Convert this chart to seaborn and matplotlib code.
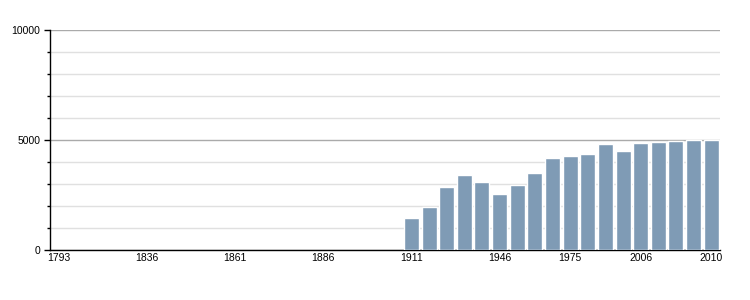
import matplotlib
matplotlib.use("Agg")
import matplotlib.pyplot as plt
import seaborn as sns
import numpy as np
import pandas as pd
from matplotlib.ticker import MultipleLocator

years = ["1793", "1800", "1806", "1821", "1831", "1836", "1841", "1846", "1851", "1856",
         "1861", "1866", "1872", "1876", "1881", "1886", "1891", "1896", "1901", "1906",
         "1911", "1921", "1926", "1931", "1936", "1946", "1954", "1962", "1968", "1975",
         "1982", "1990", "1999", "2006", "2007", "2008", "2009", "2010"]
population = [np.nan] * 20 + [1455, 1955, 2865, 3410, 3090, 2545, 2955, 3500, 4180,
                              4275, 4365, 4820, 4500, 4865, 4910, 4955, 5000, 5010]
tick_labels = ["1793", "1836", "1861", "1886", "1911", "1946", "1975", "2006", "2010"]

df = pd.DataFrame({"year": years, "population": population})

sns.set_style("white")
plt.rcParams["font.family"] = ["Liberation Sans", "DejaVu Sans"]

fig = plt.figure(figsize=(7.5, 3), dpi=100)
ax = fig.add_axes([50 / 750, 50 / 300, 670 / 750, 220 / 300])

sns.barplot(data=df, x="year", y="population", order=years, color="#7f9bb5",
            saturation=1, width=0.85, ax=ax, zorder=3)

ax.set_xlim(-0.5, len(years) - 0.5)
ax.set_ylim(0, 10000)
ax.yaxis.set_major_locator(MultipleLocator(5000))
ax.yaxis.set_minor_locator(MultipleLocator(1000))
ax.grid(which="major", axis="y", color="#aaaaaa", linewidth=1, zorder=0)
ax.grid(which="minor", axis="y", color="#e0e0e0", linewidth=1, zorder=0)
ax.set_axisbelow(True)

pos = [years.index(t) for t in tick_labels]
ax.set_xticks(pos)
ax.set_xticklabels(tick_labels)
ax.tick_params(axis="x", length=0, pad=2, labelsize=7.5, labelcolor="black")
ax.tick_params(axis="y", which="major", length=4, width=1, labelsize=7.5, left=True,
               pad=3, color="black", labelcolor="black")
ax.tick_params(axis="y", which="minor", length=2.5, width=1, left=True, color="black")

for s in ["top", "right"]:
    ax.spines[s].set_visible(False)
ax.spines["left"].set_color("black")
ax.spines["bottom"].set_color("black")
ax.spines["left"].set_linewidth(1)
ax.spines["bottom"].set_linewidth(1)
ax.set_xlabel("")
ax.set_ylabel("")

fig.savefig("out.png", dpi=100)
